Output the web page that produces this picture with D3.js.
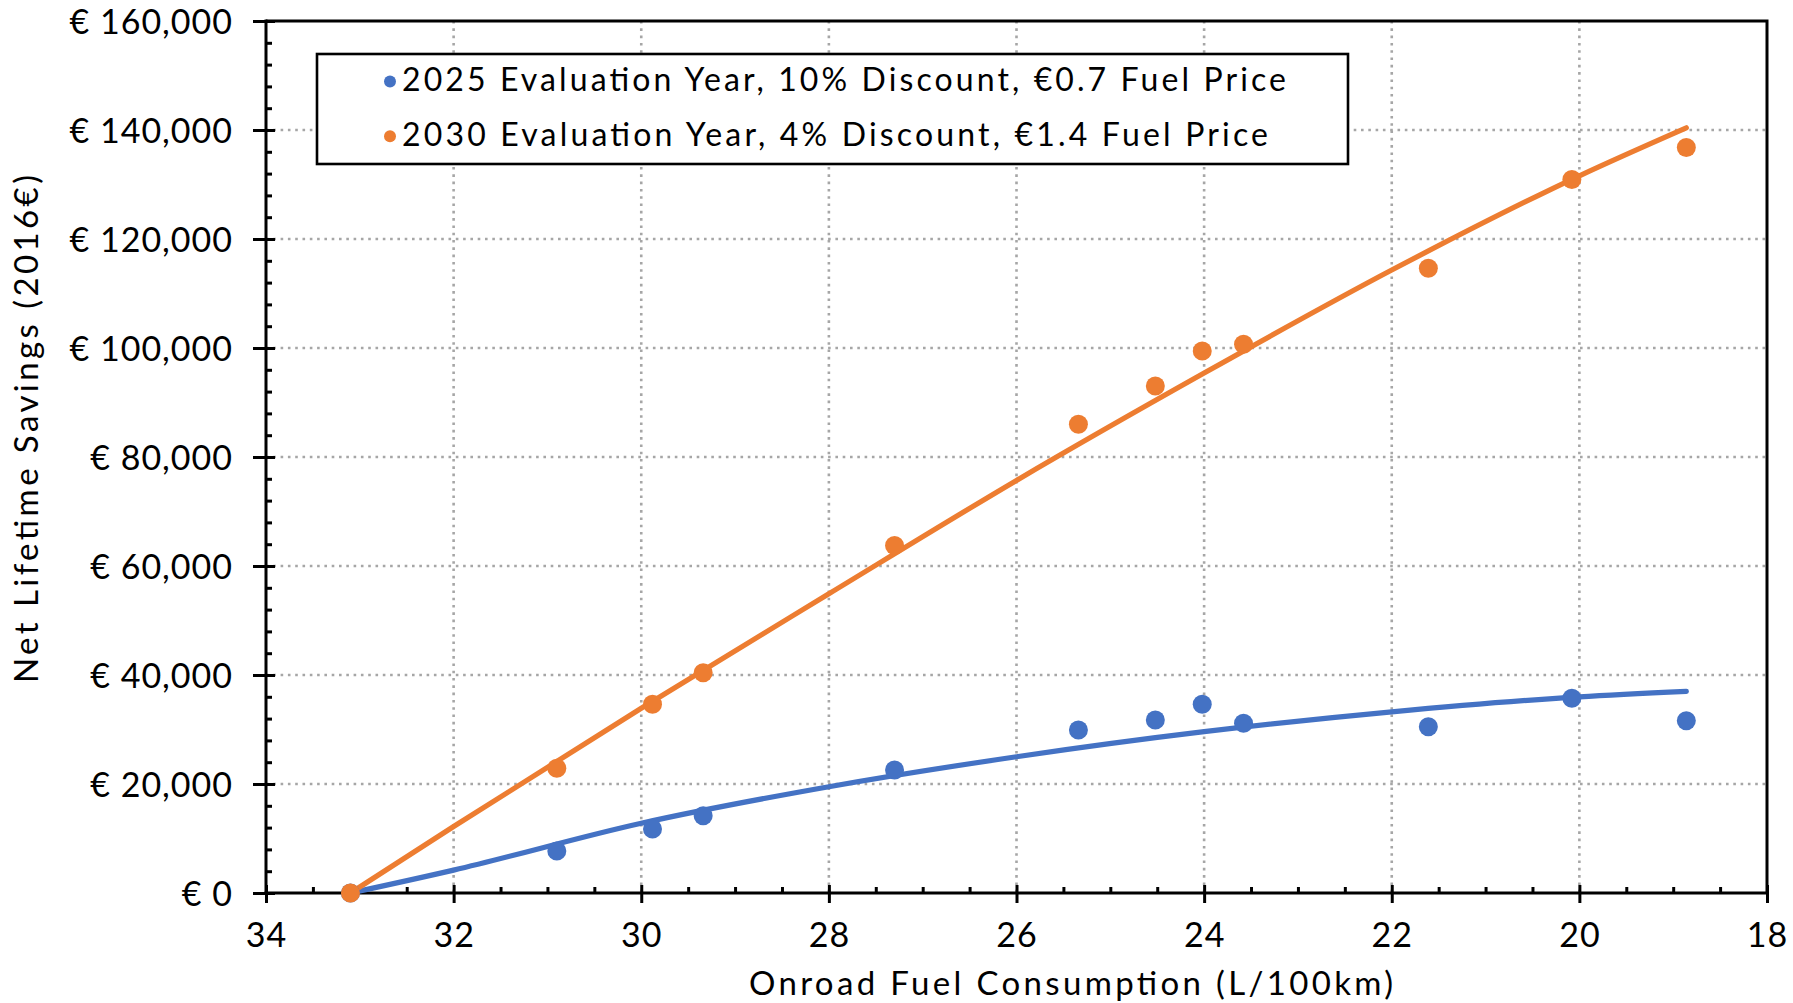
<!DOCTYPE html>
<html>
<head>
<meta charset="utf-8">
<script src="https://cdn.jsdelivr.net/npm/d3@7"></script>
<style>
  html, body { margin: 0; padding: 0; background: #fff; }
  svg { display: block; font-family: Lato, "Open Sans", sans-serif; }
</style>
</head>
<body>
<svg id="chart" width="1793" height="1003"></svg>
<script>
// Onroad fuel consumption (L/100km) of each technology package
const fuelConsumption = [33.10, 30.90, 29.88, 29.34, 27.30, 25.34, 24.52, 24.02, 23.58, 21.61, 20.08, 18.86];
// Net lifetime savings (2016 €) per scenario
const savings2025 = [0, 7706, 11743, 14183, 22569, 29908, 31743, 34624, 31138, 30514, 35725, 31615];
const savings2030 = [0, 22880, 34624, 40422, 63761, 86000, 93028, 99450, 100679, 114624, 130917, 136789];
// Trendline values for each scenario
const trendFuel = [33.10, 32, 30, 28, 26, 24, 22, 20, 18.86];
const trend2025 = [0, 4200, 12800, 19500, 25000, 29600, 33250, 36000, 37000];
const trend2030 = [0, 12200, 33900, 54900, 75700, 95400, 114300, 131600, 140400];
const seriesNames = [
  "2025 Evaluation Year, 10% Discount, €0.7 Fuel Price",
  "2030 Evaluation Year, 4% Discount, €1.4 Fuel Price"
];
const seriesColors = ["#4472C4", "#ED7D31"];
const xTicks = [34, 32, 30, 28, 26, 24, 22, 20, 18];
const yTicks = [0, 20000, 40000, 60000, 80000, 100000, 120000, 140000, 160000];
const xTitle = "Onroad Fuel Consumption (L/100km)";
const yTitle = "Net Lifetime Savings (2016€)";

const svg = d3.select("#chart");
const plot = { left: 266, right: 1767, top: 21, bottom: 893 };

const x = d3.scaleLinear().domain([34, 18]).range([plot.left, plot.right]);
const y = d3.scaleLinear().domain([0, 160000]).range([plot.bottom, plot.top]);

// dotted gridlines
const grid = svg.append("g").attr("stroke", "#a6a6a6").attr("stroke-width", 2.6)
  .attr("stroke-dasharray", "2.6,4.7");
grid.selectAll(".gx").data(xTicks.filter(v => v !== 34 && v !== 18)).join("line")
  .attr("x1", d => x(d)).attr("x2", d => x(d))
  .attr("y1", plot.top).attr("y2", plot.bottom);
grid.selectAll(".gy").data(yTicks.filter(v => v !== 0 && v !== 160000)).join("line")
  .attr("x1", plot.left).attr("x2", plot.right)
  .attr("y1", d => y(d)).attr("y2", d => y(d));

// frame (top and right edges)
svg.append("path")
  .attr("d", `M${plot.left},${plot.top}H${plot.right}V${plot.bottom}`)
  .attr("fill", "none").attr("stroke", "#000").attr("stroke-width", 3);

const fmtEuro = v => "€ " + d3.format(",")(v);

// y axis: minor ticks inward, major ticks crossing
const yMinor = d3.range(0, 160001, 4000).filter(v => v % 20000 !== 0);
svg.append("g").attr("transform", `translate(${plot.left},0)`)
  .call(d3.axisLeft(y).tickValues(yMinor).tickSize(-6).tickFormat(""))
  .call(g => g.select(".domain").remove())
  .call(g => g.selectAll("line").attr("stroke-width", 3));
svg.append("g").attr("transform", `translate(${plot.left},0)`)
  .call(d3.axisLeft(y).tickValues(yTicks).tickSize(-9).tickFormat(""))
  .call(g => g.select(".domain").remove())
  .call(g => g.selectAll("line").attr("stroke-width", 3));
const yAxis = svg.append("g").attr("transform", `translate(${plot.left},0)`)
  .call(d3.axisLeft(y).tickValues(yTicks).tickSize(13).tickPadding(20).tickFormat(fmtEuro));
yAxis.select(".domain").attr("stroke-width", 3).attr("d", `M0,${plot.top - 1.5}V${plot.bottom + 1.5}`);
yAxis.selectAll("line").attr("stroke-width", 3);
yAxis.selectAll("text").attr("font-size", 34).attr("font-family", "Lato")
  .attr("letter-spacing", 1.0).attr("fill", "#000").attr("dy", "0.36em");

// x axis: minor ticks inward, major ticks crossing
const xMinor = d3.range(18, 34.01, 0.5).filter(v => v % 2 !== 0);
svg.append("g").attr("transform", `translate(0,${plot.bottom})`)
  .call(d3.axisBottom(x).tickValues(xMinor).tickSize(-6).tickFormat(""))
  .call(g => g.select(".domain").remove())
  .call(g => g.selectAll("line").attr("stroke-width", 3));
svg.append("g").attr("transform", `translate(0,${plot.bottom})`)
  .call(d3.axisBottom(x).tickValues(xTicks).tickSize(-8).tickFormat(""))
  .call(g => g.select(".domain").remove())
  .call(g => g.selectAll("line").attr("stroke-width", 3));
const xAxis = svg.append("g").attr("transform", `translate(0,${plot.bottom})`)
  .call(d3.axisBottom(x).tickValues(xTicks).tickSize(10).tickFormat(d3.format("d")));
xAxis.select(".domain").attr("stroke-width", 3).attr("d", `M${plot.left - 1.5},0H${plot.right + 1.5}`);
xAxis.selectAll("line").attr("stroke-width", 3);
xAxis.selectAll("text").attr("font-size", 34).attr("font-family", "Lato")
  .attr("letter-spacing", 1.0).attr("fill", "#000").attr("y", 54).attr("dy", 0);

const series = [
  { vals: savings2025, trend: trend2025 },
  { vals: savings2030, trend: trend2030 }
].map((s, i) => ({
  name: seriesNames[i], color: seriesColors[i],
  points: fuelConsumption.map((f, j) => ({ x: f, y: s.vals[j] })),
  trend: trendFuel.map((f, j) => [f, s.trend[j]])
}));

// trendlines
const line = d3.line().x(d => x(d[0])).y(d => y(d[1])).curve(d3.curveMonotoneX);
series.forEach(s => {
  svg.append("path").datum(s.trend).attr("d", line)
    .attr("fill", "none").attr("stroke", s.color).attr("stroke-width", 5.2)
    .attr("stroke-linecap", "round");
});
// scatter points
series.forEach(s => {
  svg.append("g").selectAll("circle").data(s.points).join("circle")
    .attr("cx", d => x(d.x)).attr("cy", d => y(d.y)).attr("r", 9.5)
    .attr("fill", s.color);
});

// legend
const legend = svg.append("g");
legend.append("rect").attr("x", 317).attr("y", 54).attr("width", 1031).attr("height", 110)
  .attr("fill", "#fff").attr("stroke", "#000").attr("stroke-width", 2.6);
const legendWidths = [884, 866];
series.forEach((s, i) => {
  const yy = 91 + i * 54.7;
  legend.append("circle").attr("cx", 390).attr("cy", yy - 9.5).attr("r", 6).attr("fill", s.color);
  legend.append("text").attr("x", 402).attr("y", yy).attr("font-size", 32)
    .attr("textLength", legendWidths[i]).attr("lengthAdjust", "spacing")
    .attr("fill", "#000").text(s.name);
});

// axis titles
svg.append("text").attr("x", 1071).attr("y", 995).attr("text-anchor", "middle")
  .attr("font-size", 33).attr("textLength", 644).attr("lengthAdjust", "spacing")
  .attr("fill", "#000").text(xTitle);
svg.append("text").attr("transform", "translate(38,429) rotate(-90)").attr("text-anchor", "middle")
  .attr("font-size", 33).attr("textLength", 508).attr("lengthAdjust", "spacing")
  .attr("fill", "#000").text(yTitle);
</script>
</body>
</html>
